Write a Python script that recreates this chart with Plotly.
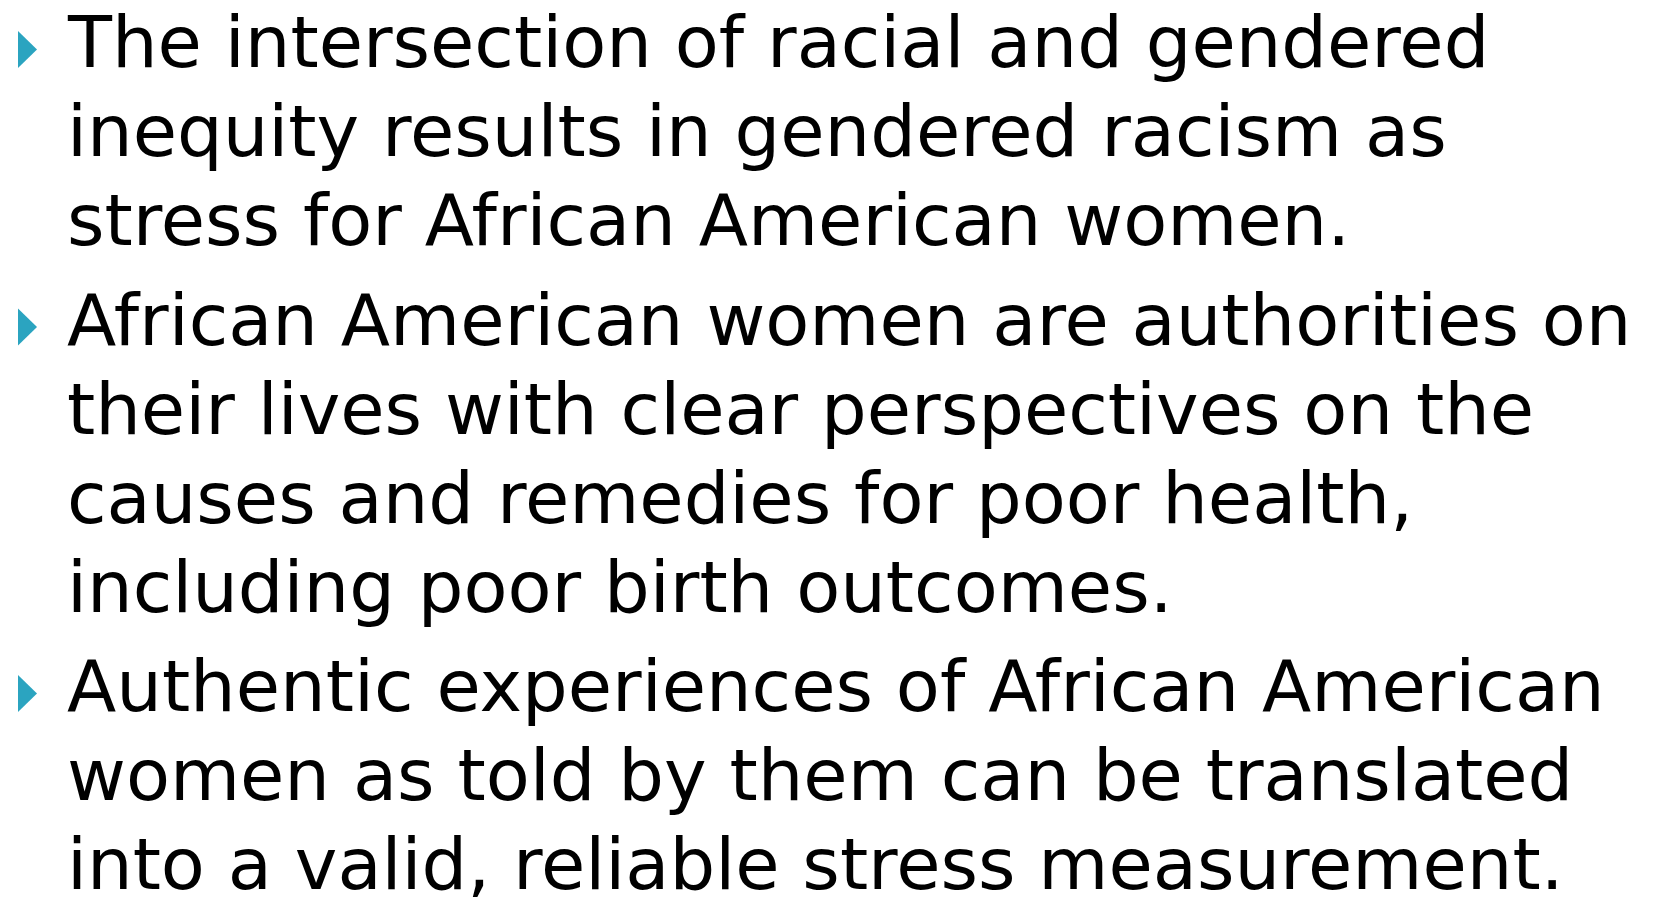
import plotly.graph_objects as go

W, H = 1655, 907

bullet_1 = [
    "The intersection of racial and gendered",
    "inequity results in gendered racism as",
    "stress for African American women.",
]
bullet_2 = [
    "African American women are authorities on",
    "their lives with clear perspectives on the",
    "causes and remedies for poor health,",
    "including poor birth outcomes.",
]
bullet_3 = [
    "Authentic experiences of African American",
    "women as told by them can be translated",
    "into a valid, reliable stress measurement.",
]
bullets = [bullet_1, bullet_2, bullet_3]

FONT = "DejaVu Sans"
FSIZE = 72
TEXT_X = 65
FIRST_BASELINE = 68
LINE_STEP = 89
PARA_STEP = 99.5
BULLET_COLOR = "#2BA4C0"

fig = go.Figure()
annotations = []
shapes = []
y = FIRST_BASELINE
for bi, lines in enumerate(bullets):
    if bi > 0:
        y += PARA_STEP - LINE_STEP
    for li, line in enumerate(lines):
        if li == 0:
            # triangle bullet: bottom at baseline
            shapes.append(dict(
                type="path", xref="x", yref="y",
                path=f"M 18 {y-37} L 37 {y-18.5} L 18 {y} Z",
                fillcolor=BULLET_COLOR, line=dict(width=0),
            ))
        annotations.append(dict(
            x=TEXT_X, y=y - 0.36 * FSIZE, xref="x", yref="y",
            text=line, showarrow=False, xanchor="left", yanchor="middle",
            font=dict(family=FONT, size=FSIZE, color="black"),
        ))
        y += LINE_STEP

fig.add_trace(go.Scatter(x=[0, W], y=[0, H], mode="markers",
                         marker=dict(opacity=0), hoverinfo="skip", showlegend=False))
fig.update_layout(
    width=W, height=H, margin=dict(l=0, r=0, t=0, b=0),
    paper_bgcolor="white", plot_bgcolor="white",
    xaxis=dict(range=[0, W], visible=False, fixedrange=True),
    yaxis=dict(range=[H, 0], visible=False, fixedrange=True),
    annotations=annotations, shapes=shapes,
)
fig.write_html(
    "out.html",
    config={"displayModeBar": False},
    post_script="document.body.style.margin='0';document.body.style.overflow='hidden';",
)
